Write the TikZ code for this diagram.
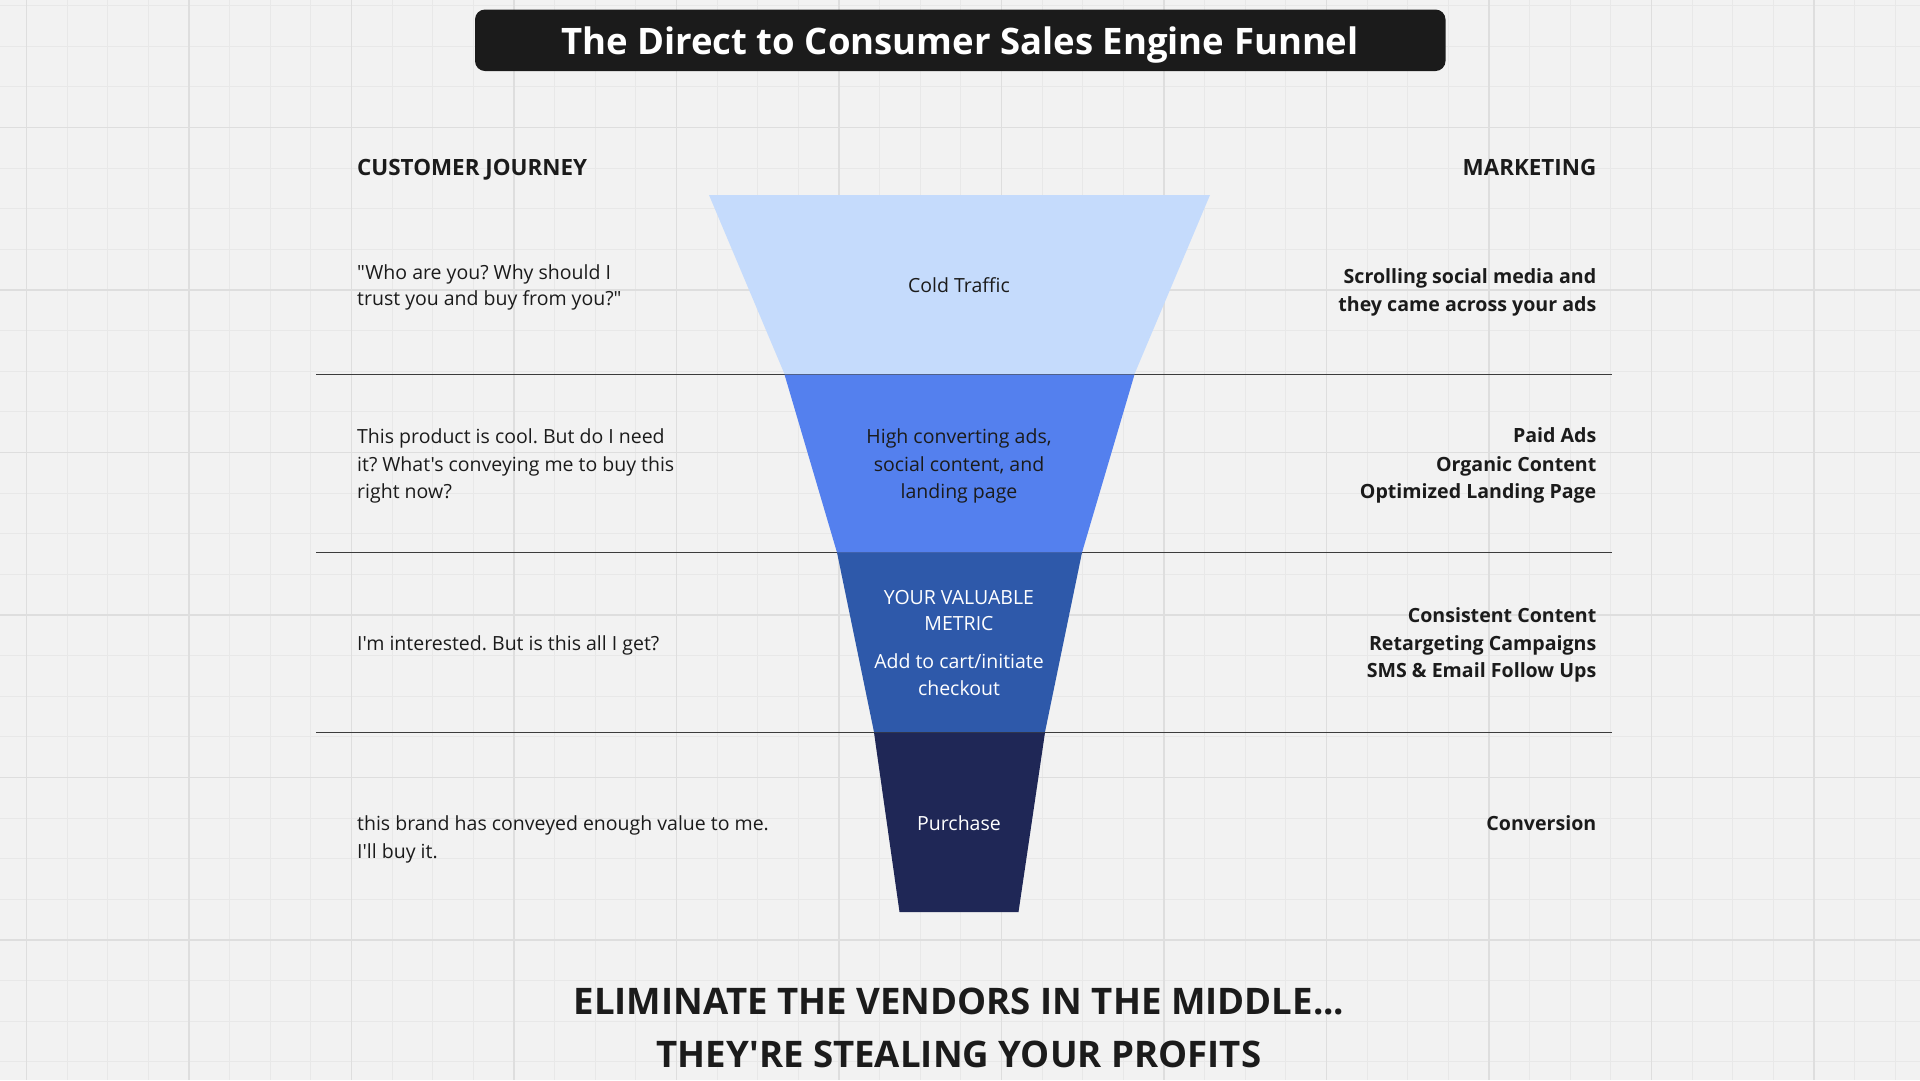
\documentclass[tikz,border=0pt]{standalone}
\usepackage{fontspec}
\setmainfont{Open Sans}
\newfontfamily\osans{Open Sans}
\frenchspacing
\definecolor{bgc}{HTML}{F2F2F2}
\definecolor{gridminor}{HTML}{E8E8E8}
\definecolor{gridmajor}{HTML}{DEDEDE}
\definecolor{ink}{HTML}{1B1B1B}
\definecolor{sepc}{HTML}{3C3C3C}
\definecolor{titlebg}{HTML}{1B1B1B}
\definecolor{segA}{HTML}{C5DBFC}
\definecolor{segB}{HTML}{5480EE}
\definecolor{segC}{HTML}{2E59AA}
\definecolor{segD}{HTML}{1F2756}
\tikzset{
  minorline/.style={draw=gridminor, line width=1.2pt},
  majorline/.style={draw=gridmajor, line width=1.5pt},
  sepline/.style={draw=sepc, line width=1.6pt},
  bodyfont/.style={font=\osans\fontsize{19.5}{24}\selectfont\frenchspacing},
  boldfont/.style={font=\osans\fontsize{19.6}{24}\selectfont\bfseries\frenchspacing},
  lefttext/.style={bodyfont, anchor=base west, inner sep=0pt, text=ink},
  righttext/.style={boldfont, anchor=base east, inner sep=0pt, text=ink},
  centertext/.style={bodyfont, anchor=base, inner sep=0pt, text=ink},
  whitetext/.style={bodyfont, anchor=base, inner sep=0pt, text=white},
  heading/.style={font=\osans\fontsize{22.4}{27}\selectfont\bfseries, inner sep=0pt, text=ink},
  bigtext/.style={font=\osans\fontsize{36.6}{44}\selectfont\bfseries, anchor=base, inner sep=0pt, text=ink},
}
\begin{document}
\begin{tikzpicture}[x=1pt,y=-1pt]
\useasboundingbox (0,0) rectangle (1920,1080);
\fill[bgc] (0,0) rectangle (1920,1080);
% grid
\foreach \k in {-1,...,47} {
  \pgfmathsetmacro{\gx}{26.5+40.625*\k}
  \draw[minorline] (\gx,0) -- (\gx,1080);
}
\foreach \k in {-3,...,23} {
  \pgfmathsetmacro{\gy}{127.5+40.625*\k}
  \draw[minorline] (0,\gy) -- (1920,\gy);
}
\foreach \k in {0,...,11} {
  \pgfmathsetmacro{\gx}{26.5+162.5*\k}
  \draw[majorline] (\gx,0) -- (\gx,1080);
}
\foreach \k in {-1,...,5} {
  \pgfmathsetmacro{\gy}{127.5+162.5*\k}
  \draw[majorline] (0,\gy) -- (1920,\gy);
}
% title
\fill[titlebg, rounded corners=10pt] (475,9.5) rectangle (1445.5,71);
\node[font=\osans\fontsize{36.5}{44}\selectfont\bfseries, text=white, anchor=base, inner sep=0pt] (title) at (960,54) {The Direct to Consumer Sales Engine Funnel};
% separators
\draw[sepline] (316,374.3) -- (1612,374.3);
\draw[sepline] (316,552.3) -- (1612,552.3);
\draw[sepline] (316,732.3) -- (1612,732.3);
% funnel
\fill[segA] (709,195) -- (1210,195) -- (1134.5,374) -- (784.5,374) -- cycle;
\fill[segB] (784.5,374.5) -- (1134.5,374.5) -- (1082,552.5) -- (837,552.5) -- cycle;
\fill[segC] (837,552.5) -- (1082,552.5) -- (1045,732) -- (874,732) -- cycle;
\fill[segD] (874,732.5) -- (1045,732.5) -- (1018.5,912) -- (899.5,912) -- cycle;
% headings
\node[heading, anchor=base west] (hcj) at (357,175.3) {CUSTOMER JOURNEY};
\node[heading, anchor=base east] (hmk) at (1596.5,175.3) {MARKETING};
% left column
\node[lefttext] (l1a) at (357,279.3) {"Who are you? Why should I};
\node[lefttext] (l1b) at (357,305.7) {trust you and buy from you?"};
\node[lefttext] (l2a) at (357,443.3) {This product is cool. But do I need};
\node[lefttext] (l2b) at (357,471) {it? What's conveying me to buy this};
\node[lefttext] (l2c) at (357,498.3) {right now?};
\node[lefttext] (l3a) at (357,650) {I'm interested. But is this all I get?};
\node[lefttext] (l4a) at (357,830) {this brand has conveyed enough value to me.};
\node[lefttext] (l4b) at (357,858.3) {I'll buy it.};
% right column
\node[righttext] (r1a) at (1596.5,283.3) {Scrolling social media and};
\node[righttext] (r1b) at (1596.5,311) {they came across your ads};
\node[righttext] (r2a) at (1596.5,442.7) {Paid Ads};
\node[righttext] (r2b) at (1596.5,471) {Organic Content};
\node[righttext] (r2c) at (1596.5,498.3) {Optimized Landing Page};
\node[righttext] (r3a) at (1596.5,622.3) {Consistent Content};
\node[righttext] (r3b) at (1596.5,650) {Retargeting Campaigns};
\node[righttext] (r3c) at (1596.5,677.7) {SMS \& Email Follow Ups};
\node[righttext] (r4a) at (1596.5,830) {Conversion};
% funnel texts
\node[centertext] (c1) at (959,292.7) {Cold Traffic};
\node[centertext] (c2a) at (959,443.3) {High converting ads,};
\node[centertext] (c2b) at (959,471) {social content, and};
\node[centertext] (c2c) at (959,498.6) {landing page};
\node[whitetext] (c3a) at (959,604.3) {YOUR VALUABLE};
\node[whitetext] (c3b) at (959,630.7) {METRIC};
\node[whitetext] (c3c) at (959,668.3) {Add to cart/initiate};
\node[whitetext] (c3d) at (959,695.3) {checkout};
\node[whitetext] (c4) at (959,830.7) {Purchase};
% bottom
\node[bigtext] (b1) at (959,1014.3) {ELIMINATE THE VENDORS IN THE MIDDLE...};
\node[bigtext] (b2) at (959,1067) {THEY'RE STEALING YOUR PROFITS};
\end{tikzpicture}
\end{document}
